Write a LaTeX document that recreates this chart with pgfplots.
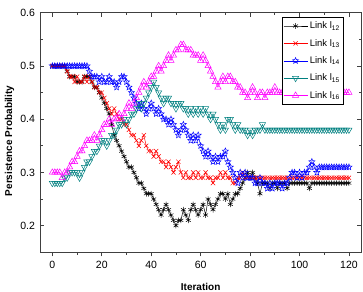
\documentclass[border=0pt]{standalone}
\usepackage{pgfplots}
\pgfplotsset{compat=1.18}
\usepackage{pgfplotstable}
\usepackage{fontspec}
\setmainfont{Liberation Sans}
\definecolor{cteal}{RGB}{0,128,128}
\definecolor{cmag}{RGB}{255,0,255}
\pgfdeclareplotmark{ostar}{%
  \pgfpathmoveto{\pgfpointpolar{90}{\pgfplotmarksize}}%
  \pgfpathlineto{\pgfpointpolar{126}{0.45\pgfplotmarksize}}%
  \pgfpathlineto{\pgfpointpolar{162}{\pgfplotmarksize}}%
  \pgfpathlineto{\pgfpointpolar{198}{0.45\pgfplotmarksize}}%
  \pgfpathlineto{\pgfpointpolar{234}{\pgfplotmarksize}}%
  \pgfpathlineto{\pgfpointpolar{270}{0.45\pgfplotmarksize}}%
  \pgfpathlineto{\pgfpointpolar{306}{\pgfplotmarksize}}%
  \pgfpathlineto{\pgfpointpolar{342}{0.45\pgfplotmarksize}}%
  \pgfpathlineto{\pgfpointpolar{18}{\pgfplotmarksize}}%
  \pgfpathlineto{\pgfpointpolar{54}{0.45\pgfplotmarksize}}%
  \pgfpathclose
  \pgfusepathqstroke}
\pgfplotstableread{
x a b c d e
0 .50 .50 .50 .28 .30
1 .50 .50 .50 .28 .30
2 .50 .50 .50 .28 .30
3 .50 .50 .50 .28 .30
4 .50 .50 .50 .28 .29
5 .50 .50 .50 .29 .30
6 .49 .49 .50 .29 .30
7 .48 .48 .50 .30 .31
8 .48 .48 .50 .30 .32
9 .48 .47 .50 .30 .32
10 .47 .48 .50 .30 .33
11 .47 .47 .50 .29 .34
12 .47 .47 .50 .30 .34
13 .48 .48 .50 .31 .35
14 .48 .47 .50 .32 .36
15 .48 .48 .49 .32 .36
16 .47 .47 .48 .33 .36
17 .46 .46 .48 .34 .37
18 .46 .46 .48 .34 .36
19 .45 .45 .47 .35 .37
20 .44 .45 .48 .36 .38
21 .43 .44 .47 .36 .39
22 .42 .43 .47 .35 .39
23 .41 .42 .48 .36 .40
24 .39 .41 .47 .37 .39
25 .37 .42 .47 .37 .40
26 .36 .41 .46 .38 .40
27 .35 .40 .47 .39 .41
28 .34 .40 .48 .39 .40
29 .33 .39 .48 .40 .41
30 .32 .39 .47 .39 .42
31 .31 .38 .46 .40 .43
32 .31 .37 .45 .41 .42
33 .30 .37 .44 .41 .43
34 .29 .36 .43 .42 .44
35 .28 .35 .42 .43 .45
36 .28 .36 .43 .42 .46
37 .27 .37 .42 .43 .47
38 .26 .35 .41 .44 .46
39 .26 .34 .42 .45 .47
40 .26 .34 .43 .46 .48
41 .25 .33 .42 .47 .48
42 .24 .34 .41 .46 .49
43 .23 .33 .42 .45 .50
44 .22 .32 .41 .44 .49
45 .23 .32 .40 .43 .50
46 .24 .31 .40 .44 .51
47 .23 .32 .39 .44 .52
48 .22 .31 .40 .43 .51
49 .21 .30 .39 .43 .52
50 .20 .31 .38 .42 .53
51 .21 .32 .37 .43 .53
52 .21 .30 .38 .43 .54
53 .23 .29 .39 .42 .54
54 .22 .30 .38 .42 .53
55 .21 .29 .37 .41 .53
56 .23 .29 .36 .42 .53
57 .24 .30 .37 .41 .52
58 .23 .29 .36 .42 .52
59 .22 .30 .37 .41 .52
60 .23 .29 .35 .42 .51
61 .24 .29 .34 .41 .52
62 .22 .30 .33 .42 .51
63 .25 .29 .34 .41 .50
64 .24 .29 .33 .40 .49
65 .23 .28 .32 .41 .48
66 .24 .29 .33 .40 .47
67 .25 .29 .32 .39 .46
68 .26 .30 .33 .38 .47
69 .26 .29 .33 .39 .48
70 .25 .30 .34 .38 .47
71 .26 .29 .32 .40 .48
72 .24 .29 .31 .40 .48
73 .25 .28 .30 .39 .47
74 .26 .28 .29 .38 .47
75 .26 .29 .28 .39 .46
76 .27 .29 .30 .38 .46
77 .28 .30 .29 .38 .45
78 .29 .29 .30 .38 .45
79 .30 .29 .29 .37 .44
80 .29 .29 .29 .38 .45
81 .30 .29 .29 .37 .46
82 .29 .29 .28 .38 .45
83 .28 .29 .28 .38 .44
84 .26 .29 .29 .38 .45
85 .28 .29 .28 .39 .45
86 .28 .29 .28 .38 .44
87 .28 .29 .27 .38 .45
88 .27 .29 .28 .38 .45
89 .28 .29 .27 .38 .45
90 .28 .29 .28 .38 .46
91 .27 .29 .28 .38 .45
92 .28 .29 .28 .38 .45
93 .28 .29 .27 .38 .45
94 .28 .29 .28 .38 .45
95 .27 .29 .28 .38 .45
96 .28 .29 .29 .38 .45
97 .28 .29 .30 .38 .45
98 .28 .29 .30 .38 .45
99 .28 .29 .29 .38 .45
100 .28 .29 .30 .38 .45
101 .28 .29 .29 .38 .45
102 .28 .29 .30 .38 .45
103 .28 .29 .30 .38 .45
104 .27 .29 .31 .38 .45
105 .28 .29 .32 .38 .45
106 .28 .29 .31 .38 .45
107 .28 .29 .30 .38 .45
108 .28 .29 .31 .38 .45
109 .28 .29 .31 .38 .45
110 .28 .29 .31 .38 .45
111 .28 .29 .31 .38 .45
112 .28 .29 .31 .38 .45
113 .28 .29 .31 .38 .45
114 .28 .29 .31 .38 .45
115 .28 .29 .31 .38 .45
116 .28 .29 .31 .38 .45
117 .28 .29 .31 .38 .45
118 .28 .29 .31 .38 .45
119 .28 .29 .31 .38 .45
120 .28 .29 .31 .38 .45
}\datatable
\begin{document}
\begin{tikzpicture}
\pgfplotsset{
  base/.style={
    scale only axis, width=321.3pt, height=239.6pt,
    xmin=-5, xmax=125, ymin=0.15, ymax=0.6,
    xtick={0,20,...,120}, minor x tick num=1,
    /pgf/number format/assume math mode=true,
  }}
\begin{axis}[base,
  ytick={0.2,0.3,0.4,0.5,0.6}, minor y tick num=1,
  tick align=inside, xtick pos=right, xticklabel pos=left,
  major tick length=4pt, minor tick length=2.5pt,
  axis line style={line width=0.8pt, black!75},
  every tick/.style={line width=0.7pt, black!75},
  tick label style={font=\fontsize{10.5}{12}\selectfont},
  xticklabel style={yshift=-5pt},
  yticklabel style={xshift=-1.5pt, /pgf/number format/.cd, fixed, fixed zerofill, precision=1},
  xlabel={\bfseries Iteration},
  ylabel={\bfseries Persistence Probability},
  label style={font=\fontsize{11.5}{13}\selectfont},
  every axis x label/.style={at={(axis description cs:0.5,-0.1586)}, anchor=base},
  every axis y label/.style={at={(axis description cs:-0.0949,0.465)}, rotate=90, anchor=center},
  legend style={at={(axis description cs:0.945,0.982)}, anchor=north east,
    font=\fontsize{9.5}{11}\selectfont, draw=black, line width=0.6pt,
    row sep=5pt, inner xsep=1.5pt, inner ysep=2.5pt, cells={anchor=west}},
  legend image code/.code={\draw[mark repeat=2,mark phase=2] plot coordinates {(0cm,0cm) (0.42cm,0cm) (0.84cm,0cm)};},
  every axis plot/.append style={line width=0.5pt},
]
\addplot[black, mark=asterisk, mark size=2.8pt] table[x=x,y=a] {\datatable};
\addlegendentry{Link l\textsubscript{12}}
\addplot[red, mark=x, mark size=3pt] table[x=x,y=b] {\datatable};
\addlegendentry{Link l\textsubscript{13}}
\addplot[blue, mark=ostar, mark size=3.2pt] table[x=x,y=c] {\datatable};
\addlegendentry{Link l\textsubscript{14}}
\addplot[cteal, mark=triangle, mark size=3.6pt, mark options={rotate=180}] table[x=x,y=d] {\datatable};
\addlegendentry{Link l\textsubscript{15}}
\addplot[cmag, mark=triangle, mark size=3.6pt] table[x=x,y=e] {\datatable};
\addlegendentry{Link l\textsubscript{16}}
\end{axis}
\begin{axis}[base,
  hide y axis, axis x line*=bottom, axis line style={draw=none},
  tick align=outside, xticklabels={}, major tick length=4pt, minor tick length=2.5pt,
  every tick/.style={line width=0.7pt, black!75},
]
\end{axis}
\pgfresetboundingbox
\path[use as bounding box] ([xshift=-40pt,yshift=-38.7pt]current axis.south west) rectangle ([xshift=1.7pt,yshift=12.7pt]current axis.north east);
\end{tikzpicture}
\end{document}
